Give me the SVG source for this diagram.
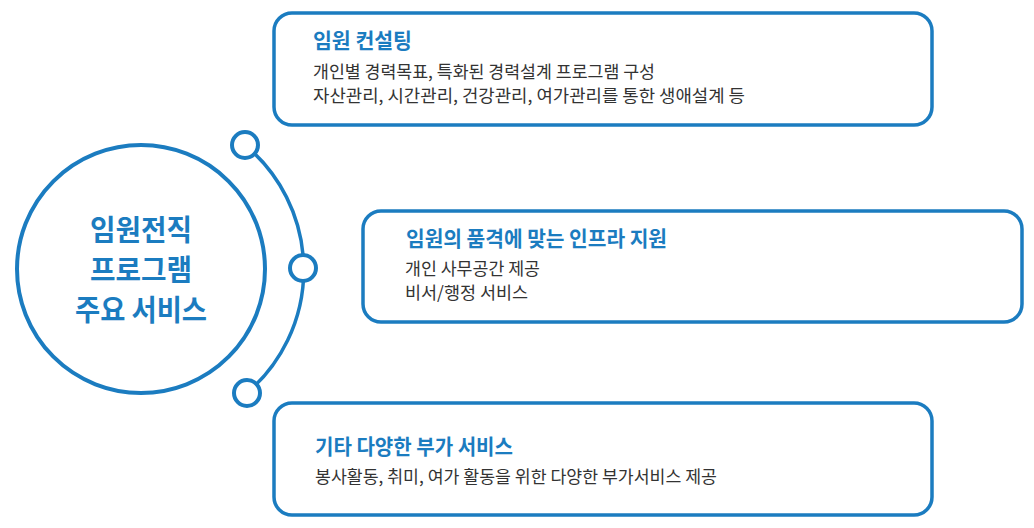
<svg xmlns="http://www.w3.org/2000/svg" width="1034" height="528" viewBox="0 0 1034 528">
<style>
.box{fill:#fff;stroke:#1b7cc0;stroke-width:3.5}
.ring{fill:#fff;stroke:#1b7cc0;stroke-width:4}
.title{font-family:"Noto Sans CJK KR","Noto Sans",sans-serif;font-weight:700;font-size:21px;fill:#1b7cc0}
.body{font-family:"Noto Sans CJK KR","Noto Sans",sans-serif;font-weight:400;font-size:17.5px;fill:#333}
.center{font-family:"Noto Sans CJK KR","Noto Sans",sans-serif;font-weight:700;font-size:29px;fill:#1b7cc0;text-anchor:middle}
</style>
<rect width="1034" height="528" fill="#fff"/>
<g id="connectors">
<path d="M245 145 A162 162 0 0 1 247 393" fill="none" stroke="#1b7cc0" stroke-width="3.5"/>
</g>
<g id="hub">
<circle cx="141" cy="269" r="124" class="ring"/>
<text class="center" x="141" y="241" textLength="102" lengthAdjust="spacingAndGlyphs">임원전직</text>
<text class="center" x="141" y="281" textLength="102" lengthAdjust="spacingAndGlyphs">프로그램</text>
<text class="center" x="141" y="321" textLength="132" lengthAdjust="spacingAndGlyphs">주요 서비스</text>
</g>
<g id="dots">
<circle cx="245" cy="145" r="13" class="ring"/>
<circle cx="303" cy="268" r="13" class="ring"/>
<circle cx="247" cy="393" r="13" class="ring"/>
</g>
<g id="node1">
<rect x="274" y="13" width="658" height="112" rx="18" class="box"/>
<text class="title" x="313" y="48" textLength="99" lengthAdjust="spacingAndGlyphs">임원 컨설팅</text>
<text class="body" x="313" y="78" textLength="342" lengthAdjust="spacingAndGlyphs">개인별 경력목표, 특화된 경력설계 프로그램 구성</text>
<text class="body" x="313" y="102" textLength="432" lengthAdjust="spacingAndGlyphs">자산관리, 시간관리, 건강관리, 여가관리를 통한 생애설계 등</text>
</g>
<g id="node2">
<rect x="363" y="211" width="659" height="111" rx="18" class="box"/>
<text class="title" x="406" y="246" textLength="261" lengthAdjust="spacingAndGlyphs">임원의 품격에 맞는 인프라 지원</text>
<text class="body" x="405" y="275" textLength="135" lengthAdjust="spacingAndGlyphs">개인 사무공간 제공</text>
<text class="body" x="405" y="299" textLength="123" lengthAdjust="spacingAndGlyphs">비서/행정 서비스</text>
</g>
<g id="node3">
<rect x="274" y="403" width="658" height="112" rx="18" class="box"/>
<text class="title" x="315" y="454" textLength="198" lengthAdjust="spacingAndGlyphs">기타 다양한 부가 서비스</text>
<text class="body" x="315" y="483" textLength="402" lengthAdjust="spacingAndGlyphs">봉사활동, 취미, 여가 활동을 위한 다양한 부가서비스 제공</text>
</g>
</svg>
